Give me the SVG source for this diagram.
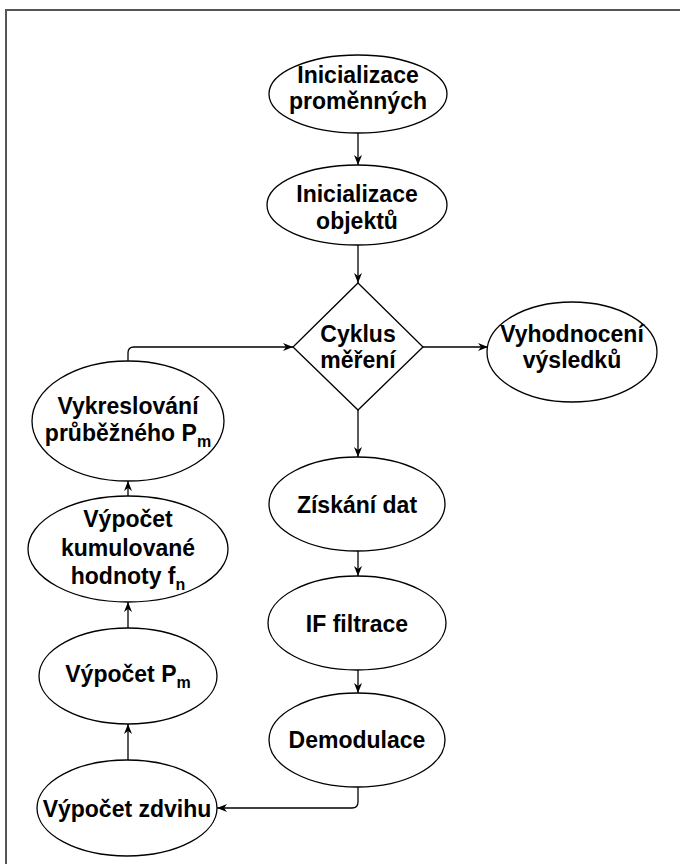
<svg xmlns="http://www.w3.org/2000/svg" width="680" height="864" viewBox="0 0 680 864">
  <defs>
    <marker id="arr" viewBox="0 0 10 10" refX="10" refY="5" markerWidth="10" markerHeight="10" markerUnits="userSpaceOnUse" orient="auto">
      <path d="M0,1 L10,5 L0,9 L3,5 z" fill="#000"/>
    </marker>
  </defs>
  <style>
    .node { fill: #fff; stroke: #000; stroke-width: 1.3; }
    .lbl { font-family: "Liberation Sans", Arial, sans-serif; font-weight: bold; font-size: 23px; fill: #000; text-anchor: middle; }
    .sub { font-size: 16px; }
    .edge { fill: none; stroke: #000; stroke-width: 1.3; marker-end: url(#arr); }
    .frame { fill: none; stroke: #555; stroke-width: 2; }
  </style>
  <rect width="680" height="864" fill="#fff"/>
  <path class="frame" d="M6,864 L6,10 L680,10"/>

  <g id="connectors">
    <path class="edge" d="M358,133 L358,165"/>
    <path class="edge" d="M358,245 L358,283"/>
    <path class="edge" d="M423,347 L488,347"/>
    <path class="edge" d="M358,410 L358,457"/>
    <path class="edge" d="M358,551 L358,576"/>
    <path class="edge" d="M358,670 L358,693"/>
    <path class="edge" d="M358,787 L358,802 Q358,808 352,808 L217,808"/>
    <path class="edge" d="M128,760 L128,724"/>
    <path class="edge" d="M128,628 L128,602"/>
    <path class="edge" d="M128,496 L128,481"/>
    <path class="edge" d="M128,361 L128,353 Q128,347 134,347 L293,347"/>
  </g>

  <g id="n-init-prom">
    <ellipse class="node" cx="358" cy="94" rx="89" ry="39"/>
    <text class="lbl" x="358" y="83">Inicializace</text>
    <text class="lbl" x="358" y="109">proměnných</text>
  </g>
  <g id="n-init-obj">
    <ellipse class="node" cx="357" cy="205" rx="90" ry="40"/>
    <text class="lbl" x="357" y="202">Inicializace</text>
    <text class="lbl" x="357" y="229">objektů</text>
  </g>
  <g id="n-cyklus">
    <path class="node" d="M358,283 L423,347 L358,410 L293,347 Z"/>
    <text class="lbl" x="358" y="342">Cyklus</text>
    <text class="lbl" x="358" y="368">měření</text>
  </g>
  <g id="n-vyhod">
    <ellipse class="node" cx="572" cy="352" rx="85" ry="50"/>
    <text class="lbl" x="572" y="342">Vyhodnocení</text>
    <text class="lbl" x="572" y="368">výsledků</text>
  </g>
  <g id="n-ziskani">
    <ellipse class="node" cx="357" cy="504" rx="88" ry="47"/>
    <text class="lbl" x="357" y="513">Získání dat</text>
  </g>
  <g id="n-if">
    <ellipse class="node" cx="357" cy="623" rx="89" ry="47"/>
    <text class="lbl" x="357" y="632">IF filtrace</text>
  </g>
  <g id="n-demod">
    <ellipse class="node" cx="357" cy="740" rx="88" ry="47"/>
    <text class="lbl" x="357" y="748">Demodulace</text>
  </g>
  <g id="n-zdvih">
    <ellipse class="node" cx="127" cy="808" rx="90" ry="48"/>
    <text class="lbl" x="127" y="817">Výpočet zdvihu</text>
  </g>
  <g id="n-pm">
    <ellipse class="node" cx="128" cy="676" rx="89" ry="48"/>
    <text class="lbl" x="128" y="682">Výpočet P<tspan class="sub" dy="6">m</tspan></text>
  </g>
  <g id="n-kumul">
    <ellipse class="node" cx="128" cy="549" rx="100" ry="53"/>
    <text class="lbl" x="128" y="527">Výpočet</text>
    <text class="lbl" x="128" y="556">kumulované</text>
    <text class="lbl" x="128" y="584">hodnoty f<tspan class="sub" dy="6">n</tspan></text>
  </g>
  <g id="n-vykres">
    <ellipse class="node" cx="128" cy="421" rx="96" ry="60"/>
    <text class="lbl" x="128" y="414">Vykreslování</text>
    <text class="lbl" x="128" y="441">průběžného P<tspan class="sub" dy="6">m</tspan></text>
  </g>
</svg>
